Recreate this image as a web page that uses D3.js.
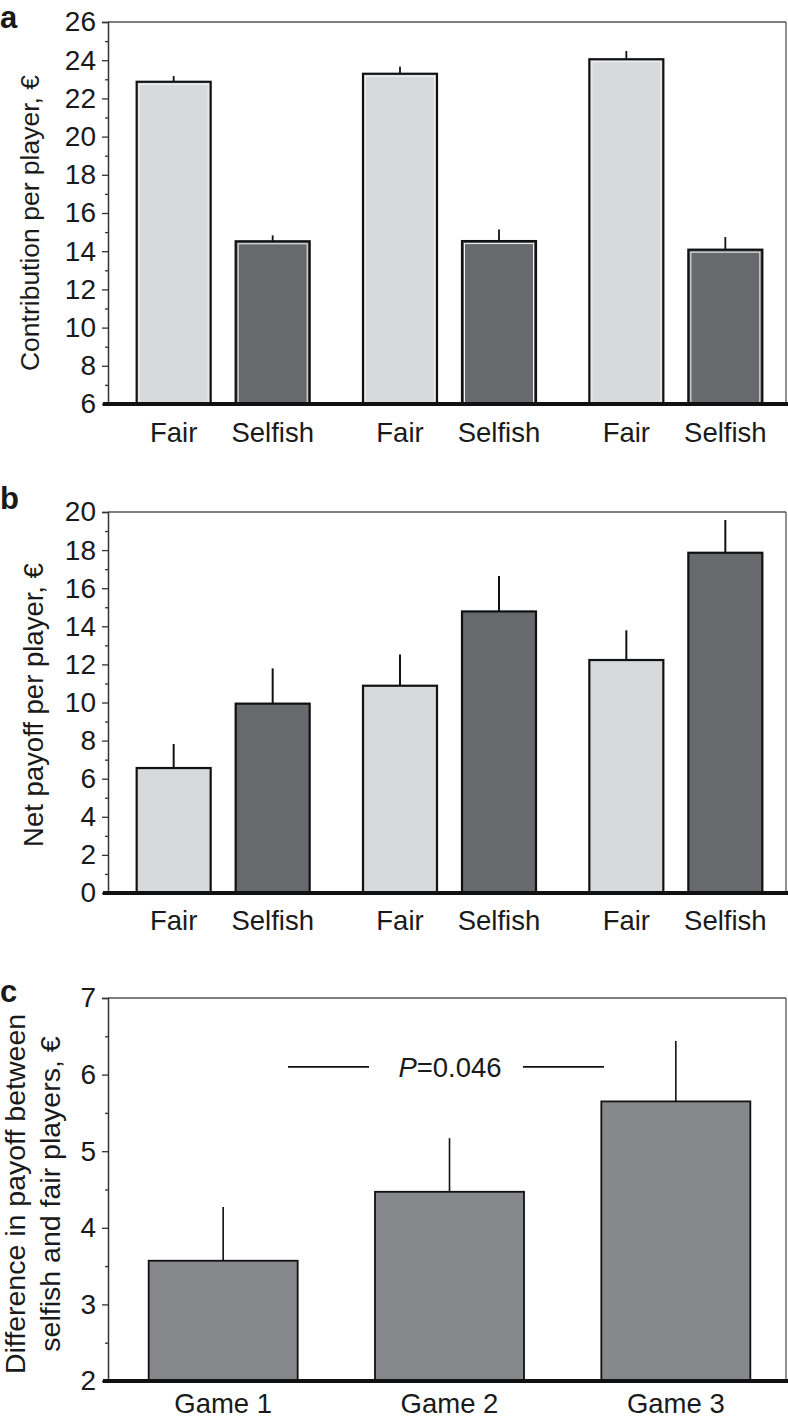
<!DOCTYPE html>
<html>
<head>
<meta charset="utf-8">
<script src="https://cdn.jsdelivr.net/npm/d3@7"></script>
<style>
  html, body { margin: 0; padding: 0; background: #fff; }
  svg { display: block; }
  text { font-family: "Liberation Sans", Arial, Helvetica, sans-serif; fill: #1a1a1a; }
</style>
</head>
<body>
<svg id="chart" width="788" height="1419"></svg>
<script>
// ---- data ----
const games = ["Game 1", "Game 2", "Game 3"];
const playerTypes = ["Fair", "Selfish"];

// Panel a: contribution per player (€), per game, [Fair, Selfish]
const contribFair = [22.87, 23.29, 24.05];
const contribFairErr = [0.30, 0.37, 0.43];
const contribSelfish = [14.52, 14.53, 14.08];
const contribSelfishErr = [0.31, 0.60, 0.66];
const contribTicks = [6, 8, 10, 12, 14, 16, 18, 20, 22, 24, 26];

// Panel b: net payoff per player (€)
const payoffFair = [6.56, 10.88, 12.23];
const payoffFairErr = [1.26, 1.64, 1.56];
const payoffSelfish = [9.94, 14.78, 17.86];
const payoffSelfishErr = [1.85, 1.86, 1.72];
const payoffTicks = [0, 2, 4, 6, 8, 10, 12, 14, 16, 18, 20];

// Panel c: difference in payoff between selfish and fair players (€)
const diffValues = [3.57, 4.47, 5.65];
const diffErr = [0.70, 0.70, 0.79];
const diffTicks = [2, 3, 4, 5, 6, 7];
const pLabelY = 6.1;
const pLabel = "=0.046";

// ---- layout ----
const svg = d3.select("#chart");
const X0 = 108, X1 = 786;
const colFair = "#d8d9db", colSelfish = "#68696d", colDiff = "#87888c";
const tickFont = "28px", catFont = "27.5px";

const gx = d3.scaleBand().domain(games).range([110, 789]).padding(0);
const px = d3.scalePoint().domain(playerTypes).range([-49.5, 49.5]);
const pairBarW = 74;

function frame(y, yTop, yBot, ticks, minorTicks, label, labelY) {
  const g = svg.append("g");
  g.append("line").attr("x1", X0).attr("x2", X1).attr("y1", yTop).attr("y2", yTop)
    .attr("stroke", "#555").attr("stroke-width", 1.3);
  g.append("line").attr("x1", X1).attr("x2", X1).attr("y1", yTop).attr("y2", yBot)
    .attr("stroke", "#555").attr("stroke-width", 1.3);
  const ax = d3.axisLeft(y).tickValues(ticks).tickSize(6).tickPadding(6).tickFormat(d3.format("d"));
  const axg = g.append("g").attr("transform", `translate(${X0},0)`).call(ax);
  axg.select(".domain").attr("stroke", "#333").attr("stroke-width", 1.5);
  axg.selectAll(".tick line").attr("stroke", "#333").attr("stroke-width", 1.3);
  axg.selectAll(".tick text").style("font-size", tickFont).attr("fill", "#1a1a1a")
    .style("font-family", "'Liberation Sans', Arial, sans-serif");
  const axm = d3.axisLeft(y).tickValues(minorTicks).tickSize(3).tickFormat("");
  const amg = g.append("g").attr("transform", `translate(${X0},0)`).call(axm);
  amg.select(".domain").remove();
  amg.selectAll(".tick line").attr("stroke", "#333").attr("stroke-width", 1.3);
  g.append("text").attr("x", 0).attr("y", labelY).text(label)
    .style("font-size", "31px").style("font-weight", "bold").attr("fill", "#111");
  return g;
}

function bottomLine(y0) {
  svg.append("line").attr("x1", 103).attr("x2", 788).attr("y1", y0).attr("y2", y0)
    .attr("stroke", "#111").attr("stroke-width", 4);
}

// ---------- Panel a ----------
(function () {
  const yTop = 22, yBot = 404;
  const y = d3.scaleLinear().domain([6, 26]).range([yBot, yTop]);
  const minor = d3.range(7, 26, 2);
  frame(y, yTop, yBot, contribTicks, minor, "a", 28);
  const rows = [];
  games.forEach((gm, i) => {
    rows.push({ g: gm, t: "Fair", v: contribFair[i], e: contribFairErr[i] });
    rows.push({ g: gm, t: "Selfish", v: contribSelfish[i], e: contribSelfishErr[i] });
  });
  const cx = d => gx(d.g) + gx.bandwidth() / 2 + px(d.t);
  const gb = svg.append("g");
  gb.selectAll("line.err").data(rows).join("line")
    .attr("x1", cx).attr("x2", cx)
    .attr("y1", d => y(d.v)).attr("y2", d => y(d.v + d.e))
    .attr("stroke", "#111").attr("stroke-width", 1.8);
  gb.selectAll("rect.bar").data(rows).join("rect")
    .attr("x", d => cx(d) - pairBarW / 2).attr("width", pairBarW)
    .attr("y", d => y(d.v)).attr("height", d => yBot - y(d.v))
    .attr("fill", d => d.t === "Fair" ? colFair : colSelfish)
    .attr("stroke", "#111").attr("stroke-width", 2.2);
  gb.selectAll("rect.inner").data(rows).join("rect")
    .attr("x", d => cx(d) - pairBarW / 2 + 2.5).attr("width", pairBarW - 5)
    .attr("y", d => y(d.v) + 2.5).attr("height", d => yBot - y(d.v) - 2.5)
    .attr("fill", "none").attr("stroke", "#f2f2f2").attr("stroke-width", 1);
  bottomLine(yBot);
  svg.append("g").selectAll("text").data(rows).join("text")
    .attr("x", cx).attr("y", 442).attr("text-anchor", "middle")
    .style("font-size", catFont).text(d => d.t);
  svg.append("text")
    .attr("transform", `translate(39,223) rotate(-90)`)
    .attr("text-anchor", "middle").style("font-size", "26.5px")
    .text("Contribution per player, €");
})();

// ---------- Panel b ----------
(function () {
  const yTop = 512, yBot = 893;
  const y = d3.scaleLinear().domain([0, 20]).range([yBot, yTop]);
  const minor = d3.range(1, 20, 2);
  frame(y, yTop, yBot, payoffTicks, minor, "b", 509);
  const rows = [];
  games.forEach((gm, i) => {
    rows.push({ g: gm, t: "Fair", v: payoffFair[i], e: payoffFairErr[i] });
    rows.push({ g: gm, t: "Selfish", v: payoffSelfish[i], e: payoffSelfishErr[i] });
  });
  const cx = d => gx(d.g) + gx.bandwidth() / 2 + px(d.t);
  const gb = svg.append("g");
  gb.selectAll("line.err").data(rows).join("line")
    .attr("x1", cx).attr("x2", cx)
    .attr("y1", d => y(d.v)).attr("y2", d => y(d.v + d.e))
    .attr("stroke", "#111").attr("stroke-width", 2);
  gb.selectAll("rect.bar").data(rows).join("rect")
    .attr("x", d => cx(d) - pairBarW / 2).attr("width", pairBarW)
    .attr("y", d => y(d.v)).attr("height", d => yBot - y(d.v))
    .attr("fill", d => d.t === "Fair" ? colFair : colSelfish)
    .attr("stroke", "#111").attr("stroke-width", 2.2);
  bottomLine(yBot);
  svg.append("g").selectAll("text").data(rows).join("text")
    .attr("x", cx).attr("y", 930).attr("text-anchor", "middle")
    .style("font-size", catFont).text(d => d.t);
  svg.append("text")
    .attr("transform", `translate(43,705) rotate(-90)`)
    .attr("text-anchor", "middle").style("font-size", "27.5px")
    .text("Net payoff per player, €");
})();

// ---------- Panel c ----------
(function () {
  const yTop = 998, yBot = 1381;
  const y = d3.scaleLinear().domain([2, 7]).range([yBot, yTop]);
  const minor = d3.range(2.5, 7, 1);
  frame(y, yTop, yBot, diffTicks, minor, "c", 1002);
  const rows = games.map((gm, i) => ({ g: gm, v: diffValues[i], e: diffErr[i] }));
  const w = 149;
  const cx = d => gx(d.g) + gx.bandwidth() / 2;
  const gb = svg.append("g");
  gb.selectAll("line.err").data(rows).join("line")
    .attr("x1", cx).attr("x2", cx)
    .attr("y1", d => y(d.v)).attr("y2", d => y(d.v + d.e))
    .attr("stroke", "#111").attr("stroke-width", 1.6);
  gb.selectAll("rect.bar").data(rows).join("rect")
    .attr("x", d => cx(d) - w / 2).attr("width", w)
    .attr("y", d => y(d.v)).attr("height", d => yBot - y(d.v))
    .attr("fill", colDiff).attr("stroke", "#111").attr("stroke-width", 1.8);
  bottomLine(yBot);
  svg.append("g").selectAll("text").data(rows).join("text")
    .attr("x", cx).attr("y", 1413).attr("text-anchor", "middle")
    .style("font-size", catFont).text(d => d.g);
  const py = y(pLabelY);
  const midX = (cx(rows[0]) + cx(rows[2])) / 2 + 0.5;
  svg.append("line").attr("x1", midX - 162).attr("x2", midX - 81).attr("y1", py).attr("y2", py)
    .attr("stroke", "#111").attr("stroke-width", 1.8);
  svg.append("line").attr("x1", midX + 73).attr("x2", midX + 154).attr("y1", py).attr("y2", py)
    .attr("stroke", "#111").attr("stroke-width", 1.8);
  const pt = svg.append("text").attr("x", midX).attr("y", py + 10).attr("text-anchor", "middle")
    .style("font-size", "27.5px");
  pt.append("tspan").style("font-style", "italic").text("P");
  pt.append("tspan").text(pLabel);
  const cy = 1194;
  svg.append("text")
    .attr("transform", `translate(25,${cy}) rotate(-90)`)
    .attr("text-anchor", "middle").style("font-size", "28.5px")
    .text("Difference in payoff between");
  svg.append("text")
    .attr("transform", `translate(60,${cy}) rotate(-90)`)
    .attr("text-anchor", "middle").style("font-size", "28.5px")
    .text("selfish and fair players, €");
})();
</script>
</body>
</html>
